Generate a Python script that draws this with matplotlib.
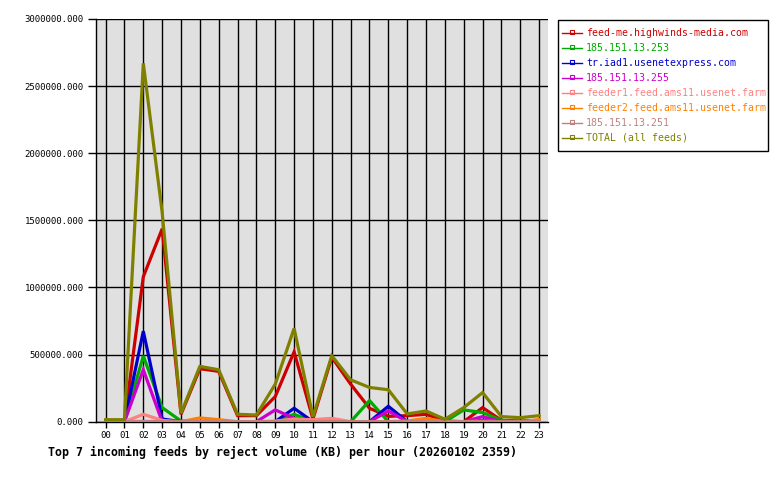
import matplotlib
matplotlib.use("Agg")
import matplotlib.pyplot as plt
from matplotlib.lines import Line2D
from matplotlib.patches import Rectangle
import numpy as np

# hourly reject volume (KB) per feed
hours = ["%02d" % h for h in range(24)]

feeds = [
    "feed-me.highwinds-media.com",
    "185.151.13.253",
    "tr.iad1.usenetexpress.com",
    "185.151.13.255",
    "feeder1.feed.ams11.usenet.farm",
    "feeder2.feed.ams11.usenet.farm",
    "185.151.13.251",
    "TOTAL (all feeds)",
]
colors = ["#cc0000", "#00aa00", "#0000cc", "#cc00cc",
          "#ff8080", "#ff8000", "#c08080", "#808000"]

feed_me = [0, 0, 1080000, 1437000, 55000, 395000, 375000, 45000, 45000, 187000,
           520000, 20000, 480000, 280000, 100000, 40000, 45000, 55000, 5000, 0,
           105000, 10000, 5000, 10000]
ip_253 = [0, 0, 490000, 105000, 5000, 0, 0, 0, 0, 0,
          55000, 0, 0, 0, 157000, 0, 0, 0, 0, 88000,
          68000, 10000, 0, 0]
iad1 = [0, 0, 674000, 20000, 0, 0, 0, 0, 0, 0,
        100000, 0, 0, 0, 0, 115000, 0, 0, 0, 0,
        10000, 0, 0, 0]
ip_255 = [0, 0, 387000, 0, 0, 0, 0, 0, 0, 88000,
          25000, 0, 0, 0, 0, 80000, 0, 0, 0, 0,
          38000, 0, 0, 0]
feeder1 = [0, 0, 55000, 10000, 0, 0, 0, 0, 0, 5000,
           20000, 15000, 25000, 0, 0, 0, 0, 0, 0, 0,
           5000, 0, 0, 0]
feeder2 = [0, 0, 0, 0, 0, 28000, 15000, 0, 0, 0,
           0, 0, 0, 0, 0, 0, 5000, 25000, 0, 0,
           0, 0, 0, 15000]
ip_251 = [0, 0, 3000, 0, 0, 0, 0, 0, 0, 0,
          0, 0, 0, 0, 0, 0, 0, 0, 0, 0,
          0, 0, 0, 0]
total = [15000, 15000, 2670000, 1560000, 63000, 412000, 387000, 55000, 50000, 280000,
         695000, 37000, 492000, 312000, 255000, 238000, 58000, 80000, 18000, 105000,
         217000, 38000, 30000, 45000]

series = [feed_me, ip_253, iad1, ip_255, feeder1, feeder2, ip_251, total]

yticks = [0, 500000, 1000000, 1500000, 2000000, 2500000, 3000000]
title = "Top 7 incoming feeds by reject volume (KB) per hour (20260102 2359)"

mono = "DejaVu Sans Mono"
W, H = 780, 480


def fx(px):
    return px / W


def fy(py):
    return 1 - py / H


fig = plt.figure(figsize=(7.8, 4.8), dpi=100)
ax = fig.add_axes([fx(96), fy(421.7), 452 / W, 402.7 / H])
ax.set_facecolor("#e0e0e0")

x = np.arange(len(hours))
for vals, c in zip(series, colors):
    ax.plot(x, vals, color=c, lw=2.3, solid_joinstyle="miter", zorder=3)

ax.set_xlim(-0.51, 23.47)
ax.set_ylim(0, 3000000)
ax.set_xticks(x)
ax.set_xticklabels(hours, family=mono, fontsize=6.5)
ax.set_yticks(yticks)
ax.set_yticklabels(["%.3f" % v for v in yticks], family=mono, fontsize=6.5)
ax.tick_params(axis="y", length=6, width=1, color="black", pad=3)
ax.tick_params(axis="x", length=4, width=1, color="black", pad=3)
ax.grid(True, color="black", lw=1, zorder=1)
ax.set_axisbelow(True)
for s in ["top", "right"]:
    ax.spines[s].set_visible(False)
for s in ["left", "bottom"]:
    ax.spines[s].set_linewidth(1)

# legend box drawn by hand to match the original layout
fig.add_artist(Rectangle((fx(558), fy(151)), 210 / W, 131 / H,
                         transform=fig.transFigure, facecolor="white",
                         edgecolor="black", lw=1))
for i, (name, c) in enumerate(zip(feeds, colors)):
    ry = 33 + 15 * i
    fig.add_artist(Line2D([fx(562), fx(582)], [fy(ry), fy(ry)],
                          transform=fig.transFigure, color=c, lw=1))
    fig.add_artist(Line2D([fx(572)], [fy(ry - 1)], transform=fig.transFigure,
                          color=c, marker="s", markersize=2.2,
                          markerfacecolor="none", markeredgewidth=0.8))
    fig.text(fx(586), fy(ry), name, color=c, family=mono, fontsize=7.1,
             va="center", ha="left")

fig.text(fx(48), fy(452), title, family=mono, fontsize=8.35,
         fontweight="bold", va="center", ha="left")

fig.savefig("out.png", dpi=100)
